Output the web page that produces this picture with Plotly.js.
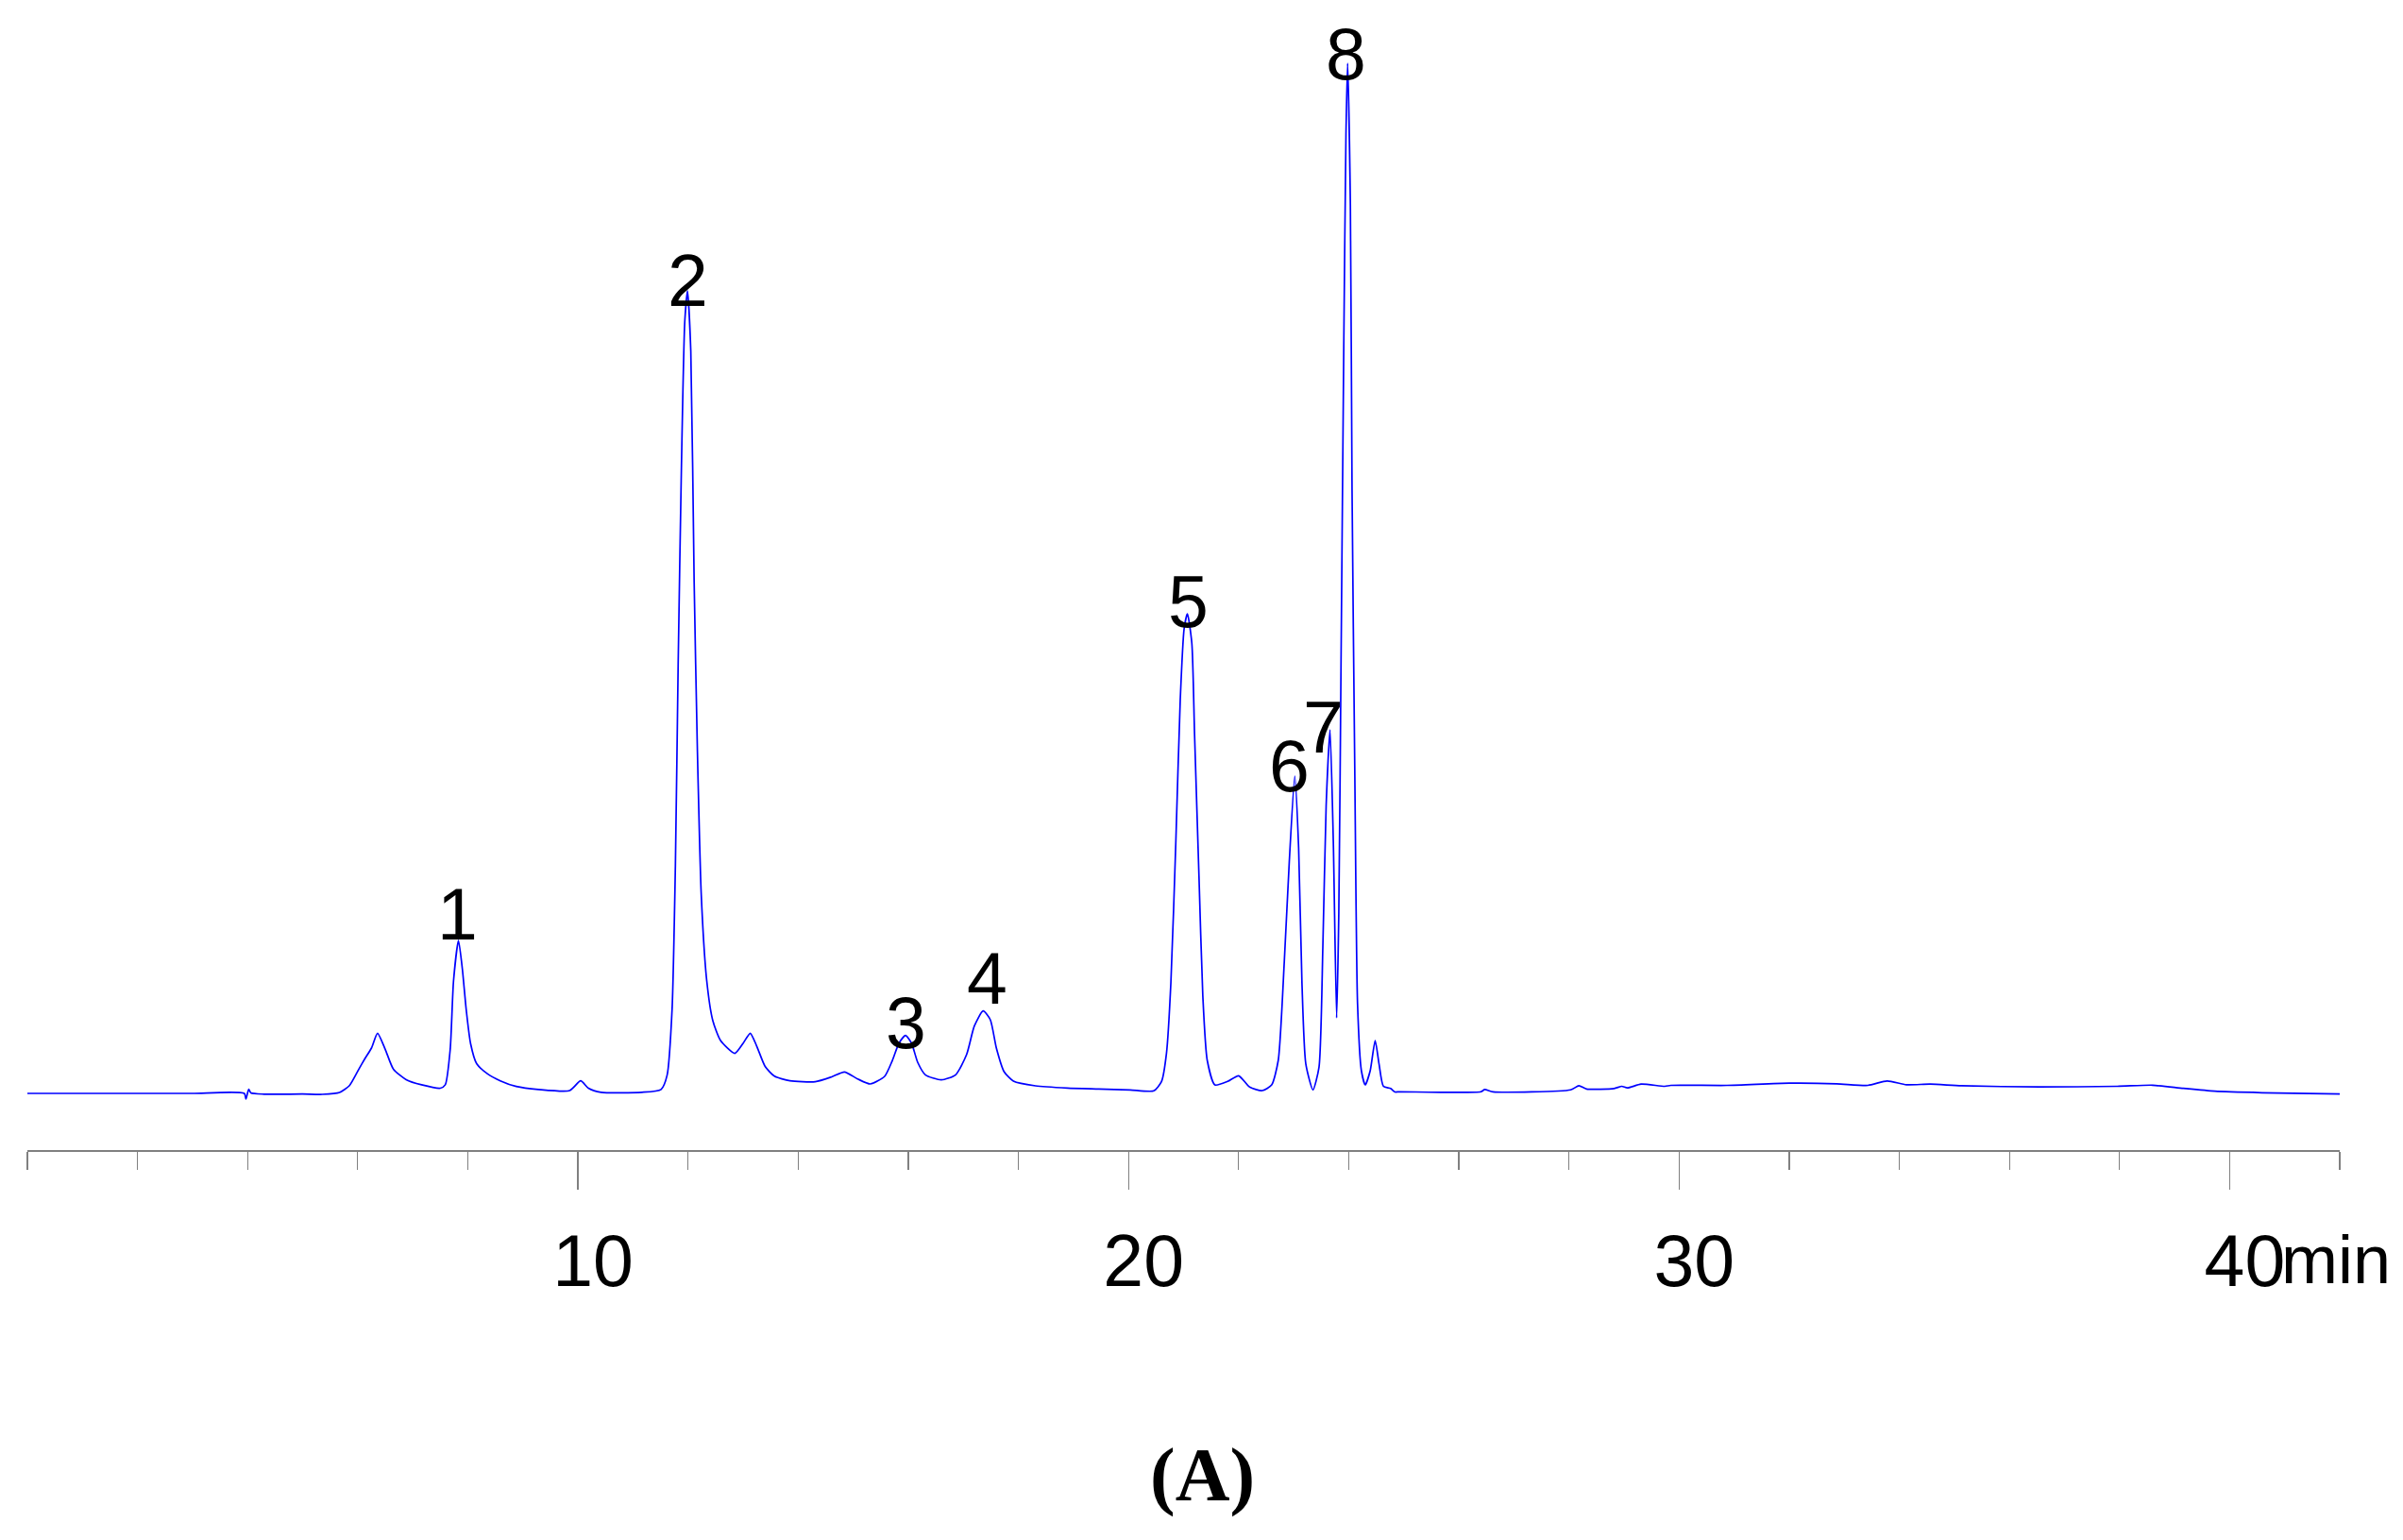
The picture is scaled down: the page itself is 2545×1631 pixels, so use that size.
<!DOCTYPE html>
<html>
<head>
<meta charset="utf-8">
<script src="https://cdn.plot.ly/plotly-3.0.1.min.js"></script>
<style>
  html, body { margin: 0; padding: 0; background: #ffffff; }
  #chart { width: 2545px; height: 1631px; }
</style>
</head>
<body>
<div id="chart"></div>
<script>
// retention time (min) and detector signal (arbitrary units)
const timeMin = [
  0, 1, 2, 3, 3.94, 3.97, 4.02, 4.06, 4.3, 5.0, 5.36, 5.67,
  5.85, 6.03, 6.13, 6.25, 6.36, 6.5, 6.65, 6.88, 7.16, 7.5, 7.59,
  7.68, 7.74, 7.83, 7.9, 7.97, 8.05, 8.16, 8.36, 8.59, 8.88, 9.28, 9.85,
  10.05, 10.19, 10.42, 11.16, 11.51, 11.62, 11.71, 11.77, 11.82, 11.88,
  11.94, 11.99, 12.05, 12.11, 12.17, 12.24, 12.34, 12.45, 12.59, 12.85,
  13.0, 13.13, 13.25, 13.4, 13.57, 13.85, 14.31, 14.6, 14.84, 15.08,
  15.31, 15.57, 15.71, 15.83, 15.95, 16.06, 16.17, 16.31, 16.6, 16.86,
  17.06, 17.2, 17.36, 17.49, 17.6, 17.74, 17.91, 18.31, 18.89, 19.46,
  20.03, 20.46, 20.6, 20.69, 20.77, 20.86, 20.94, 21.01, 21.07, 21.15,
  21.2, 21.28, 21.35, 21.43, 21.57, 21.8, 22.0, 22.2, 22.43, 22.6,
  22.72, 22.83, 22.92, 23.02, 23.09, 23.15, 23.22, 23.35, 23.46, 23.53,
  23.59, 23.66, 23.72, 23.78, 23.82, 23.86, 23.91, 23.95, 23.98, 24.03,
  24.06, 24.11, 24.16, 24.23, 24.3, 24.39, 24.48, 24.55, 24.63, 24.76,
  24.84, 24.92, 26.4, 26.47, 26.62, 28.03, 28.18, 28.32, 28.82, 28.96,
  29.06, 29.31, 29.74, 29.85, 30.87, 32.0, 32.86, 33.43, 33.78, 34.13,
  34.56, 35.13, 36.54, 37.96, 38.6, 39.16, 39.73, 40.59, 42.0
];
const signal = [
  0, 0, 0, 0, 0, -0.6, 0.43, 0.05, -0.08, -0.07, -0.1, 0.1,
  0.83, 2.67, 3.67, 4.8, 6.37, 4.67, 2.55, 1.46, 0.91, 0.55, 0.91,
  4.67, 11.9, 16.2, 13.2, 8.9, 5.28, 3.15, 2.06, 1.33, 0.73, 0.42, 0.3,
  1.33, 0.55, 0.12, 0.12, 0.42, 1.94, 8.9, 24.1, 45.3, 66.5,
  81.7, 85.0, 78.6, 54.4, 36.2, 21.0, 11.9, 7.7, 5.6, 4.24,
  5.3, 6.37, 4.97, 2.85, 1.82, 1.33, 1.23, 1.73, 2.27, 1.53,
  1.0, 1.8, 3.47, 5.3, 6.13, 5.3, 3.3, 1.97, 1.43, 1.97,
  4.13, 7.13, 8.73, 7.8, 4.8, 2.3, 1.3, 0.8, 0.57, 0.47,
  0.37, 0.27, 1.27, 4.27, 11.75, 26.7, 41.7, 49.2, 50.8, 47.7,
  38.0, 23.0, 10.3, 3.5, 0.9, 1.27, 1.87, 0.67, 0.3, 0.9,
  3.5, 14.0, 24.5, 33.6, 26.0, 11.75, 3.14, 0.37, 2.77, 15.5,
  30.5, 38.5, 26.7, 8.0, 19.2, 45.4, 79.1, 101.6, 109.1, 94.1,
  64.1, 34.2, 9.5, 2.4, 0.9, 2.4, 5.6, 3.14, 0.75, 0.52,
  0.15, 0.17, 0.17, 0.41, 0.17, 0.37, 0.81, 0.47, 0.51, 0.75,
  0.58, 0.98, 0.75, 0.85, 0.85, 1.08, 1.02, 0.85, 1.32, 0.92,
  0.98, 0.81, 0.68, 0.75, 0.87, 0.53, 0.23, 0.07, -0.07
];

// peak numbers and where their labels sit
const peakLabels = ["1", "2", "3", "4", "5", "6", "7", "8"];
const peakLabelX = [7.82, 12.0, 15.95, 17.43, 21.08, 22.92, 23.54, 23.95];
const peakLabelY = [19.0, 86.1, 7.5, 12.2, 52.1, 34.7, 38.8, 110.1];

const tickValues = [10, 20, 30, 40];
const tickLabels = ["10", "20", "30", "40"];

const sansFont = "Liberation Sans, Arial, sans-serif";

const trace = {
  x: timeMin,
  y: signal,
  type: "scatter",
  mode: "lines",
  line: { color: "#0000ff", width: 1.7, shape: "spline", smoothing: 0.6 },
  hoverinfo: "skip",
};

const annotations = peakLabels.map((label, i) => ({
  text: label,
  x: peakLabelX[i],
  y: peakLabelY[i],
  xref: "x",
  yref: "y",
  showarrow: false,
  xanchor: "center",
  yanchor: "middle",
  font: { family: sansFont, size: 77, color: "#000000" },
}));

// unit next to the last tick label
annotations.push({
  text: "min",
  x: 40.9,
  y: 0,
  xref: "x",
  yref: "paper",
  xanchor: "left",
  yanchor: "middle",
  yshift: -116,
  showarrow: false,
  font: { family: sansFont, size: 72, color: "#000000" },
});

// panel caption
annotations.push({
  text: "(A)",
  x: 21.34,
  y: 0,
  xref: "x",
  yref: "paper",
  xanchor: "center",
  yanchor: "middle",
  yshift: -344,
  showarrow: false,
  font: { family: "Times New Roman", size: 80, weight: "bold", color: "#000000" },
});

const layout = {
  width: 2545,
  height: 1631,
  margin: { l: 29, r: 67, t: 30, b: 413 },
  paper_bgcolor: "#ffffff",
  plot_bgcolor: "#ffffff",
  showlegend: false,
  xaxis: {
    range: [0, 42],
    showgrid: false,
    zeroline: false,
    showline: true,
    linecolor: "#808080",
    linewidth: 1.5,
    ticks: "outside",
    ticklen: 40,
    tickwidth: 1.2,
    tickcolor: "#808080",
    tickvals: tickValues,
    ticktext: tickLabels,
    ticklabelshift: 16,
    ticklabelstandoff: 10,
    tickfont: { family: sansFont, size: 77, color: "#000000" },
    minor: { dtick: 2, ticks: "outside", ticklen: 19, tickwidth: 1.2, tickcolor: "#808080", showgrid: false },
  },
  yaxis: {
    range: [-6, 112.8],
    visible: false,
    showgrid: false,
    zeroline: false,
  },
  annotations: annotations,
};

Plotly.newPlot("chart", [trace], layout, { staticPlot: true, displayModeBar: false });
</script>
</body>
</html>
